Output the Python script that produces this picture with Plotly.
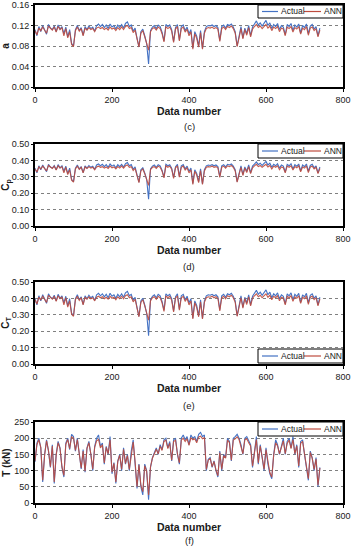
import plotly.graph_objects as go

# ---------------- data (every 5th data number) ----------------
data_number = list(range(0, 745, 5))

a_actual = [0.112,0.100,0.118,0.108,0.120,0.110,0.103,0.122,0.115,0.112,
            0.119,0.108,0.121,0.113,0.118,0.104,0.117,0.098,0.112,0.085,
            0.080,0.112,0.120,0.110,0.116,0.101,0.118,0.112,0.119,0.114,
            0.117,0.109,0.120,0.123,0.118,0.122,0.116,0.121,0.114,0.123,
            0.117,0.120,0.113,0.121,0.116,0.122,0.115,0.124,0.127,0.118,
            0.121,0.109,0.115,0.095,0.079,0.108,0.113,0.100,0.085,0.045,
            0.110,0.117,0.120,0.114,0.121,0.118,0.107,0.090,0.122,0.118,
            0.121,0.112,0.089,0.116,0.122,0.092,0.118,0.121,0.110,0.117,
            0.104,0.112,0.076,0.108,0.099,0.080,0.110,0.075,0.108,0.118,
            0.120,0.119,0.121,0.118,0.120,0.116,0.091,0.118,0.121,0.115,
            0.122,0.120,0.123,0.117,0.108,0.080,0.098,0.118,0.096,0.115,
            0.104,0.120,0.100,0.117,0.123,0.129,0.121,0.125,0.119,0.124,
            0.130,0.120,0.125,0.114,0.122,0.118,0.124,0.112,0.120,0.117,
            0.102,0.122,0.118,0.124,0.110,0.121,0.117,0.123,0.105,0.120,
            0.116,0.123,0.104,0.119,0.122,0.113,0.118,0.100,0.115]
a_ann = [0.110,0.102,0.115,0.110,0.117,0.111,0.105,0.119,0.114,0.111,
         0.117,0.107,0.118,0.112,0.116,0.100,0.114,0.096,0.108,0.083,
         0.079,0.110,0.117,0.109,0.114,0.100,0.115,0.111,0.116,0.112,
         0.114,0.108,0.115,0.117,0.114,0.116,0.112,0.115,0.111,0.117,
         0.113,0.115,0.110,0.116,0.112,0.117,0.112,0.118,0.120,0.114,
         0.116,0.106,0.111,0.092,0.078,0.105,0.110,0.098,0.086,0.072,
         0.108,0.114,0.116,0.111,0.117,0.114,0.104,0.088,0.118,0.114,
         0.117,0.109,0.087,0.113,0.118,0.090,0.114,0.117,0.107,0.113,
         0.100,0.108,0.074,0.104,0.095,0.078,0.106,0.074,0.105,0.114,
         0.116,0.115,0.117,0.114,0.116,0.113,0.089,0.114,0.117,0.112,
         0.118,0.116,0.119,0.114,0.105,0.079,0.096,0.114,0.094,0.112,
         0.101,0.116,0.098,0.113,0.118,0.122,0.116,0.119,0.114,0.118,
         0.122,0.115,0.119,0.110,0.117,0.114,0.118,0.108,0.115,0.113,
         0.100,0.117,0.114,0.118,0.107,0.116,0.113,0.118,0.103,0.115,
         0.112,0.118,0.101,0.115,0.117,0.110,0.114,0.098,0.111]

cp_actual = [0.353,0.324,0.367,0.343,0.372,0.348,0.331,0.376,0.360,0.353,
             0.369,0.343,0.374,0.355,0.367,0.334,0.365,0.319,0.353,0.285,
             0.271,0.353,0.372,0.348,0.362,0.326,0.367,0.353,0.369,0.358,
             0.365,0.346,0.372,0.378,0.367,0.376,0.362,0.374,0.358,0.378,
             0.365,0.372,0.355,0.374,0.362,0.376,0.360,0.380,0.387,0.367,
             0.374,0.346,0.360,0.311,0.268,0.343,0.355,0.324,0.285,0.164,
             0.348,0.365,0.372,0.358,0.374,0.367,0.341,0.298,0.376,0.367,
             0.374,0.353,0.296,0.362,0.376,0.303,0.367,0.374,0.348,0.365,
             0.334,0.353,0.260,0.343,0.321,0.271,0.348,0.257,0.343,0.367,
             0.372,0.369,0.374,0.367,0.372,0.362,0.301,0.367,0.374,0.360,
             0.376,0.372,0.378,0.365,0.343,0.271,0.319,0.367,0.314,0.360,
             0.334,0.372,0.324,0.365,0.378,0.391,0.374,0.383,0.369,0.380,
             0.394,0.372,0.383,0.358,0.376,0.367,0.380,0.353,0.372,0.365,
             0.329,0.376,0.367,0.380,0.348,0.374,0.365,0.378,0.336,0.372,
             0.362,0.378,0.334,0.369,0.376,0.355,0.367,0.324,0.360]
cp_ann = [0.348,0.329,0.360,0.348,0.365,0.351,0.336,0.369,0.358,0.351,
          0.365,0.341,0.367,0.353,0.362,0.324,0.358,0.314,0.343,0.279,
          0.268,0.348,0.365,0.346,0.358,0.324,0.360,0.351,0.362,0.353,
          0.358,0.343,0.360,0.365,0.358,0.362,0.353,0.360,0.351,0.365,
          0.355,0.360,0.348,0.362,0.353,0.365,0.353,0.367,0.372,0.358,
          0.362,0.338,0.351,0.303,0.265,0.336,0.348,0.319,0.288,0.248,
          0.343,0.358,0.362,0.351,0.365,0.358,0.334,0.293,0.367,0.358,
          0.365,0.346,0.291,0.355,0.367,0.298,0.358,0.365,0.341,0.355,
          0.324,0.343,0.254,0.334,0.311,0.265,0.338,0.254,0.336,0.358,
          0.362,0.360,0.365,0.358,0.362,0.355,0.296,0.358,0.365,0.353,
          0.367,0.362,0.369,0.358,0.336,0.268,0.314,0.358,0.308,0.353,
          0.326,0.362,0.319,0.355,0.367,0.376,0.362,0.369,0.358,0.367,
          0.376,0.360,0.369,0.348,0.365,0.358,0.367,0.343,0.360,0.355,
          0.324,0.365,0.358,0.367,0.341,0.362,0.355,0.367,0.331,0.360,
          0.353,0.367,0.326,0.360,0.365,0.348,0.358,0.319,0.351]

ct_actual = [0.398,0.360,0.416,0.385,0.422,0.392,0.370,0.428,0.407,0.398,
             0.419,0.385,0.425,0.401,0.416,0.373,0.413,0.354,0.398,0.311,
             0.294,0.398,0.422,0.392,0.410,0.363,0.416,0.398,0.419,0.404,
             0.413,0.388,0.422,0.431,0.416,0.428,0.410,0.425,0.404,0.431,
             0.413,0.422,0.401,0.425,0.410,0.428,0.407,0.434,0.443,0.416,
             0.425,0.388,0.407,0.344,0.291,0.385,0.401,0.360,0.311,0.172,
             0.392,0.413,0.422,0.404,0.425,0.416,0.382,0.328,0.428,0.416,
             0.425,0.398,0.324,0.410,0.428,0.334,0.416,0.425,0.392,0.413,
             0.373,0.398,0.281,0.385,0.357,0.294,0.392,0.278,0.385,0.416,
             0.422,0.419,0.425,0.416,0.422,0.410,0.331,0.416,0.425,0.407,
             0.428,0.422,0.431,0.413,0.385,0.294,0.354,0.416,0.347,0.407,
             0.373,0.422,0.360,0.413,0.431,0.449,0.425,0.438,0.419,0.434,
             0.452,0.422,0.438,0.404,0.428,0.416,0.434,0.398,0.422,0.413,
             0.366,0.428,0.416,0.434,0.392,0.425,0.413,0.431,0.376,0.422,
             0.410,0.431,0.373,0.419,0.428,0.401,0.416,0.360,0.407]
ct_ann = [0.392,0.366,0.407,0.392,0.413,0.395,0.376,0.419,0.404,0.395,
          0.413,0.382,0.416,0.398,0.410,0.360,0.404,0.347,0.385,0.304,
          0.291,0.392,0.413,0.388,0.404,0.360,0.407,0.395,0.410,0.398,
          0.404,0.385,0.407,0.413,0.404,0.410,0.398,0.407,0.395,0.413,
          0.401,0.407,0.392,0.410,0.398,0.413,0.398,0.416,0.422,0.404,
          0.410,0.379,0.395,0.334,0.288,0.376,0.392,0.354,0.314,0.267,
          0.385,0.404,0.410,0.395,0.413,0.404,0.373,0.321,0.416,0.404,
          0.413,0.388,0.318,0.401,0.416,0.328,0.404,0.413,0.382,0.401,
          0.360,0.385,0.274,0.373,0.344,0.288,0.379,0.274,0.376,0.404,
          0.410,0.407,0.413,0.404,0.410,0.401,0.324,0.404,0.413,0.398,
          0.416,0.410,0.419,0.404,0.376,0.291,0.347,0.404,0.341,0.398,
          0.363,0.410,0.354,0.401,0.416,0.428,0.410,0.419,0.404,0.416,
          0.428,0.407,0.419,0.392,0.413,0.404,0.416,0.385,0.407,0.401,
          0.360,0.413,0.404,0.416,0.382,0.410,0.401,0.416,0.370,0.407,
          0.398,0.416,0.363,0.407,0.413,0.392,0.404,0.354,0.395]

t_actual = [127,185,200,170,65,150,195,160,110,180,
            60,150,190,170,110,80,185,200,165,212,
            205,160,200,150,105,165,95,170,190,150,
            100,175,200,210,175,185,120,175,150,205,
            90,125,60,130,150,100,170,120,150,100,
            160,195,130,45,120,50,25,120,100,10,
            110,140,155,170,150,180,165,195,200,170,
            190,130,195,200,150,120,200,210,195,205,
            180,210,200,205,190,212,218,205,210,100,
            135,140,110,130,100,80,160,100,150,140,
            200,190,130,200,205,212,200,180,150,200,
            205,190,180,110,160,205,120,180,140,100,
            170,120,90,75,150,195,180,150,175,200,
            150,190,200,170,205,150,180,110,190,195,
            150,110,70,160,140,100,140,50,110]
t_ann = [130,180,195,172,70,148,192,162,112,176,
         65,148,186,168,112,85,180,196,168,205,
         200,162,196,152,108,160,98,168,186,152,
         104,172,192,196,170,180,124,172,152,195,
         95,122,65,128,148,104,166,122,146,104,
         156,188,128,50,118,55,35,115,98,25,
         112,138,152,166,152,175,162,190,194,168,
         185,132,190,194,152,124,194,200,190,198,
         178,202,195,198,186,204,206,198,202,104,
         132,138,112,128,102,84,156,104,146,138,
         194,186,132,194,198,204,196,176,152,195,
         198,186,176,114,158,196,124,176,142,104,
         165,122,94,80,148,186,176,152,170,192,
         152,184,194,168,196,152,176,114,184,190,
         152,112,75,156,138,104,136,55,108]

series_names = ["Actual", "ANN"]
panel_labels = ["(c)", "(d)", "(e)", "(f)"]
y_titles = ["<b>a</b>", "<b>C<sub>p</sub></b>", "<b>C<sub>T</sub></b>", "<b>T (kN)</b>"]
x_title = "Data number"
series = [(a_actual, a_ann), (cp_actual, cp_ann), (ct_actual, ct_ann), (t_actual, t_ann)]
y_ranges = [[0, 0.16], [0, 0.5], [0, 0.5], [0, 250]]
y_dticks = [0.04, 0.1, 0.1, 50]
y_formats = [".2f", ".2f", ".2f", "d"]

# ---------------- layout geometry (pixels in 351x550 canvas) ----------------
W, H = 351, 550
plot_tops = [5, 144, 282, 422]
plot_bots = [87, 226, 364, 503]
label_y = [126, 266, 405, 548]
legend_boxes = [(5, 18), (144, 158), (349, 363), (422, 436)]   # (top, bottom) px
x0px, x1px = 35, 343

BLUE = "#4472C4"
RED = "#BE4B3E"
FONT = "Liberation Sans, Arial, sans-serif"
TXT = "#1a1a1a"

def px(xp):
    return xp / W

def py(yp):
    return 1 - yp / H

fig = go.Figure()
layout = dict(
    width=W, height=H, margin=dict(l=0, r=0, t=0, b=0, autoexpand=False),
    paper_bgcolor="white", plot_bgcolor="white",
    font=dict(family=FONT, size=9, color=TXT),
    showlegend=False, annotations=[], shapes=[],
)

for k in range(4):
    sx = "" if k == 0 else str(k + 1)
    act, ann = series[k]
    fig.add_trace(go.Scatter(x=data_number, y=act, mode="lines", name=series_names[0],
                             line=dict(color=BLUE, width=1.1),
                             xaxis="x" + sx, yaxis="y" + sx))
    fig.add_trace(go.Scatter(x=data_number, y=ann, mode="lines", name=series_names[1],
                             line=dict(color=RED, width=1.1), opacity=0.9,
                             xaxis="x" + sx, yaxis="y" + sx))
    layout["xaxis" + sx] = dict(
        domain=[px(x0px), px(x1px)], anchor="y" + sx, range=[0, 800], dtick=200,
        showline=True, mirror=True, linecolor="black", linewidth=2,
        ticks="outside", ticklen=3, tickcolor="black", showgrid=False, zeroline=False,
        tickfont=dict(size=9, color=TXT), automargin=False,
        title=dict(text="<b>" + x_title + "</b>", font=dict(size=10.5, color=TXT), standoff=1),
    )
    layout["yaxis" + sx] = dict(
        domain=[py(plot_bots[k]), py(plot_tops[k])], anchor="x" + sx,
        range=y_ranges[k], dtick=y_dticks[k], tickformat=y_formats[k],
        showline=True, mirror=True, linecolor="black", linewidth=2,
        ticks="outside", ticklen=2, tickcolor="black",
        showgrid=True, gridcolor="#808080", griddash="dot", gridwidth=1, zeroline=False,
        tickfont=dict(size=9, color=TXT), automargin=False,
        title=dict(text=y_titles[k], font=dict(size=10, color=TXT), standoff=2),
    )
    # legend box (Excel style, compact)
    top, bot = legend_boxes[k]
    mid = (top + bot) / 2
    layout["shapes"].append(dict(type="rect", xref="paper", yref="paper",
                                 x0=px(258), x1=px(343), y0=py(bot), y1=py(top),
                                 fillcolor="white", line=dict(color="black", width=1), layer="above"))
    layout["shapes"].append(dict(type="line", xref="paper", yref="paper",
                                 x0=px(262), x1=px(278), y0=py(mid), y1=py(mid),
                                 line=dict(color=BLUE, width=1.2), layer="above"))
    layout["shapes"].append(dict(type="line", xref="paper", yref="paper",
                                 x0=px(304), x1=px(321), y0=py(mid), y1=py(mid),
                                 line=dict(color=RED, width=1.2), layer="above"))
    layout["annotations"].append(dict(text=series_names[0], x=px(279), y=py(mid),
                                      xref="paper", yref="paper", showarrow=False,
                                      xanchor="left", yanchor="middle",
                                      font=dict(size=8.5, color=TXT)))
    layout["annotations"].append(dict(text=series_names[1], x=px(322), y=py(mid),
                                      xref="paper", yref="paper", showarrow=False,
                                      xanchor="left", yanchor="middle",
                                      font=dict(size=8.5, color=TXT)))
    layout["annotations"].append(dict(
        text=panel_labels[k], x=px((x0px + x1px) / 2), y=py(label_y[k]),
        xref="paper", yref="paper", showarrow=False, xanchor="center",
        yanchor="bottom" if k == 3 else "middle",
        font=dict(size=9.5, color=TXT)))

fig.update_layout(**layout)
fig.write_html(
    "out.html",
    config={"displayModeBar": False},
    post_script="document.body.style.margin='0';document.body.style.padding='0';"
                "document.body.style.overflow='hidden';",
)
